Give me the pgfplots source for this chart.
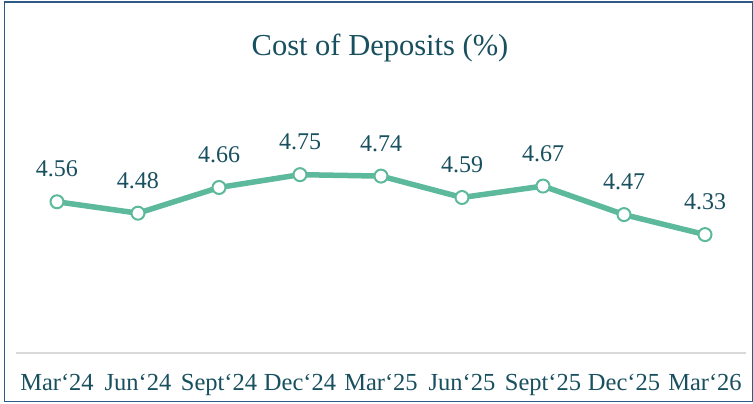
\documentclass[border=0pt]{standalone}
\usepackage{pgfplots}
\pgfplotsset{compat=1.18}
\usepackage{fontspec}
\setmainfont{Liberation Serif}
\definecolor{linegreen}{HTML}{5DB99B}
\definecolor{txt}{HTML}{18505F}
\definecolor{frame}{HTML}{2F5987}
\definecolor{basegray}{HTML}{D9D9D9}
\newcommand{\ga}{\char"60\relax}
\begin{document}
\begin{tikzpicture}[x=1pt,y=1pt]
\path[use as bounding box] (0,0) rectangle (753,404);
\fill[white] (0,0) rectangle (753,404);
\draw[frame, line width=1.5pt] (4.5,2.5) rectangle (752.5,402);
\node[anchor=base, text=txt, font=\fontsize{30.5}{34}\selectfont] at (380,348) {Cost of Deposits (\%)};
\begin{axis}[
  at={(16.5pt,51pt)}, anchor=south west,
  scale only axis, width=729pt, height=214pt,
  xmin=-0.5, xmax=8.5, ymin=3.5, ymax=5.0,
  axis x line*=bottom, axis y line=none,
  x axis line style={draw=basegray, line width=1.5pt, -},
  xtick=data, major tick length=0pt,
  xticklabels={Mar\ga24, Jun\ga24, Sept\ga24, Dec\ga24, Mar\ga25, Jun\ga25, Sept\ga25, Dec\ga25, Mar\ga26},
  xticklabel style={anchor=base, yshift=-38pt, text=txt, font=\fontsize{24.5}{27}\selectfont},
  ytick=\empty,
  nodes near coords,
  nodes near coords style={anchor=base, yshift=25pt, text=txt, font=\fontsize{24}{27}\selectfont, /pgf/number format/.cd, fixed, fixed zerofill, precision=2, assume math mode=true},
  clip=false,
]
\addplot[linegreen, line width=5.5pt, mark=*, mark size=6.5pt,
  mark options={fill=white, draw=linegreen, line width=2pt}]
  coordinates {(0,4.56) (1,4.48) (2,4.66) (3,4.75) (4,4.74) (5,4.59) (6,4.67) (7,4.47) (8,4.33)};
\end{axis}
\end{tikzpicture}
\end{document}
